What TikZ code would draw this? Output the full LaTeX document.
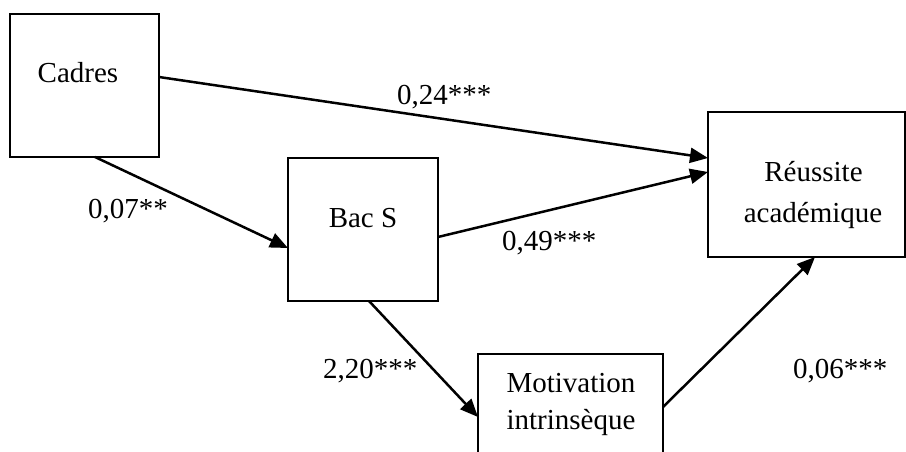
\documentclass[tikz,border=0pt]{standalone}
\usepackage{fontspec}
\setmainfont{Liberation Serif}
\usetikzlibrary{arrows.meta}
\begin{document}
\begin{tikzpicture}[x=1pt,y=-1pt,
  box/.style={draw=black,line width=2.2pt,inner sep=0pt,outer sep=0pt,fill=none},
  txt/.style={inner sep=0pt,outer sep=0pt,anchor=base,font=\fontsize{29}{34}\selectfont},
  coef/.style={inner sep=0pt,outer sep=0pt,anchor=base west,font=\fontsize{29}{34}\selectfont},
  link/.style={line width=2.5pt,-{Triangle[length=18pt,width=15pt]}}]
\useasboundingbox (0,0) rectangle (906,452);
\clip (0,0) rectangle (906,452);
\fill[white] (0,0) rectangle (906,452);
% boxes
\node[box,minimum width=149pt,minimum height=143pt] (cad) at (84.5,85.5) {};
\node[box,minimum width=150pt,minimum height=143pt] (bac) at (363,229.5) {};
\node[box,minimum width=197pt,minimum height=145pt] (reu) at (806.5,184.5) {};
\node[box,minimum width=185pt,minimum height=116pt] (mot) at (570.5,412) {};
% texts
\node[txt] (cadt) at (78,83) {Cadres};
\node[txt] (bact) at (363,227) {Bac S};
\node[txt] (reut1) at (813.5,182) {Réussite};
\node[txt] (reut2) at (813,222) {académique};
\node[txt] (mott1) at (571,392) {Motivation};
\node[txt] (mott2) at (571,429) {intrinsèque};
% connectors
\draw[link] ([yshift=8.5pt]cad.east) -- ([yshift=26.5pt]reu.west);
\draw[link] ([xshift=10.5pt]cad.south) -- ([yshift=-18.5pt]bac.west);
\draw[link] ([yshift=-7.5pt]bac.east) -- ([yshift=12.5pt]reu.west);
\draw[link] ([xshift=6pt]bac.south) -- ([yshift=-5pt]mot.west);
\draw[link] ([yshift=5pt]mot.east) -- ([xshift=8.5pt]reu.south);
% coefficients
\node[coef] (c1) at (397,105) {0,24***};
\node[coef] (c2) at (502,250) {0,49***};
\node[coef] (c3) at (88,218) {0,07**};
\node[coef] (c4) at (323,378) {2,20***};
\node[coef] (c5) at (793,378) {0,06***};
\end{tikzpicture}
\end{document}
